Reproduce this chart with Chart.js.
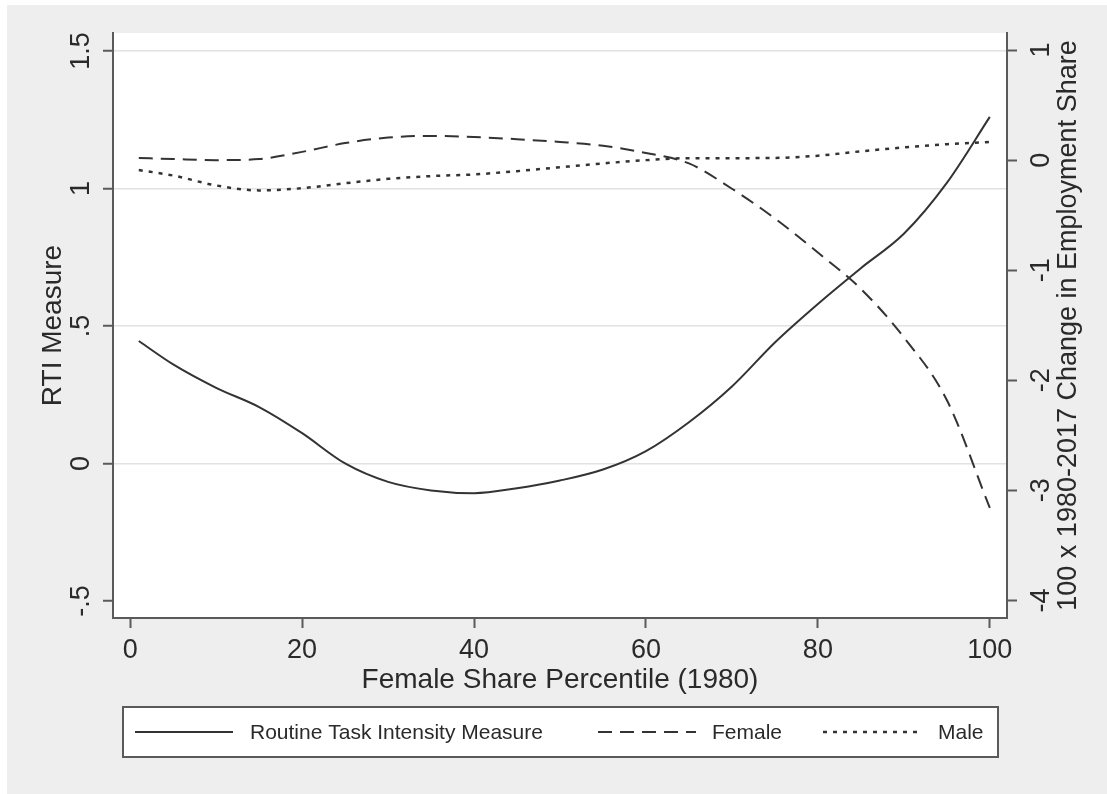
<!DOCTYPE html>
<html>
<head>
<meta charset="utf-8">
<script src="https://cdn.jsdelivr.net/npm/chart.js@4.4.1/dist/chart.umd.min.js"></script>
<style>
    html, body { margin: 0; padding: 0; background: #fff; }
    #wrap { width: 1107px; height: 794px; }
</style>
</head>
<body>
<div id="wrap"><canvas id="grafico" width="1107" height="794"></canvas></div>
<script>
const percentis = [1, 5, 10, 15, 20, 25, 30, 35, 40, 45, 50, 55, 60, 65, 70, 75, 80, 85, 90, 95, 100];
const rtiValores = [0.445, 0.36, 0.275, 0.205, 0.11, 0.0, -0.067, -0.098, -0.108, -0.09, -0.062, -0.022, 0.045, 0.15, 0.28, 0.44, 0.58, 0.71, 0.835, 1.02, 1.26];
const femaleValores = [0.02, 0.01, 0.0, 0.01, 0.075, 0.155, 0.205, 0.22, 0.21, 0.19, 0.165, 0.13, 0.065, -0.03, -0.26, -0.53, -0.84, -1.17, -1.61, -2.18, -3.16];
const maleValores = [-0.09, -0.14, -0.23, -0.275, -0.255, -0.21, -0.17, -0.145, -0.13, -0.1, -0.065, -0.03, 0.0, 0.018, 0.018, 0.02, 0.04, 0.08, 0.115, 0.145, 0.165];

const xTicks = [0, 20, 40, 60, 80, 100];
const yEsqTicks = [-0.5, 0, 0.5, 1, 1.5];
const yEsqLabels = ['-.5', '0', '.5', '1', '1.5'];
const yDirTicks = [-4, -3, -2, -1, 0, 1];
const yDirLabels = ['-4', '-3', '-2', '-1', '0', '1'];

const FONTE = "'Liberation Sans', Arial, Helvetica, sans-serif";
const COR_TEXTO = '#2a2a2a';
const COR_EIXO = '#5a5a5a';
const COR_LINHA = '#333333';

Chart.defaults.font.family = FONTE;
Chart.defaults.color = COR_TEXTO;

function pontos(valores) {
    return percentis.map((x, i) => ({ x, y: valores[i] }));
}

const fundo = {
    id: 'fundo',
    beforeDraw(chart) {
        const { ctx, width, height, chartArea } = chart;
        ctx.save();
        ctx.fillStyle = '#ffffff';
        ctx.fillRect(0, 0, width, height);
        ctx.fillStyle = '#eeeeee';
        ctx.fillRect(7, 5, width - 7, height - 5);
        ctx.fillStyle = '#ffffff';
        ctx.fillRect(chartArea.left, chartArea.top, chartArea.right - chartArea.left, chartArea.bottom - chartArea.top);
        ctx.restore();
    }
};

// titulo do eixo direito lido de baixo para cima, como no original
const tituloDireita = {
    id: 'tituloDireita',
    afterDraw(chart) {
        const { ctx, chartArea } = chart;
        ctx.save();
        ctx.translate(1069, (chartArea.top + chartArea.bottom) / 2);
        ctx.rotate(-Math.PI / 2);
        ctx.font = `27px ${FONTE}`;
        ctx.fillStyle = COR_TEXTO;
        ctx.textAlign = 'center';
        ctx.textBaseline = 'middle';
        ctx.fillText('100 x 1980-2017 Change in Employment Share', 0, 0);
        ctx.restore();
    }
};

const legenda = {
    id: 'legenda',
    afterDraw(chart) {
        const { ctx } = chart;
        const caixa = { x: 123, y: 707, w: 875, h: 50 };
        const itens = [
            { x0: 135, x1: 233, tx: 250 },
            { x0: 598, x1: 696, tx: 712 },
            { x0: 823, x1: 921, tx: 938 }
        ];
        const cy = caixa.y + caixa.h / 2;

        ctx.save();
        ctx.fillStyle = '#ffffff';
        ctx.fillRect(caixa.x, caixa.y, caixa.w, caixa.h);
        ctx.strokeStyle = COR_EIXO;
        ctx.lineWidth = 2;
        ctx.strokeRect(caixa.x, caixa.y, caixa.w, caixa.h);

        chart.data.datasets.forEach((ds, i) => {
            const it = itens[i];
            ctx.beginPath();
            ctx.setLineDash(ds.borderDash || []);
            ctx.strokeStyle = ds.borderColor;
            ctx.lineWidth = ds.borderWidth;
            ctx.moveTo(it.x0, cy);
            ctx.lineTo(it.x1, cy);
            ctx.stroke();

            ctx.setLineDash([]);
            ctx.font = `21px ${FONTE}`;
            ctx.fillStyle = COR_TEXTO;
            ctx.textAlign = 'left';
            ctx.textBaseline = 'middle';
            ctx.fillText(ds.label, it.tx, cy + 1);
        });
        ctx.restore();
    }
};

const eixoBase = {
    border: { display: true, color: COR_EIXO, width: 2 },
    ticks: { font: { size: 27 }, autoSkip: false }
};

new Chart(document.getElementById('grafico').getContext('2d'), {
    type: 'line',
    data: {
        datasets: [
            {
                label: 'Routine Task Intensity Measure',
                data: pontos(rtiValores),
                yAxisID: 'y',
                borderColor: COR_LINHA,
                borderWidth: 2,
                borderDash: []
            },
            {
                label: 'Female',
                data: pontos(femaleValores),
                yAxisID: 'y2',
                borderColor: COR_LINHA,
                borderWidth: 2,
                borderDash: [14, 8]
            },
            {
                label: 'Male',
                data: pontos(maleValores),
                yAxisID: 'y2',
                borderColor: COR_LINHA,
                borderWidth: 2.5,
                borderDash: [4, 6]
            }
        ]
    },
    options: {
        responsive: false,
        animation: false,
        layout: { padding: { top: 33, left: 0, right: 0, bottom: 0 } },
        elements: {
            point: { radius: 0 },
            line: { cubicInterpolationMode: 'monotone', fill: false }
        },
        plugins: {
            legend: { display: false },
            tooltip: { enabled: false }
        },
        scales: {
            x: {
                ...eixoBase,
                type: 'linear',
                position: 'bottom',
                min: -2,
                max: 102,
                afterBuildTicks(scale) { scale.ticks = xTicks.map(v => ({ value: v })); },
                afterFit(scale) { scale.height = 176; },
                grid: { drawOnChartArea: false, tickLength: 10, tickColor: COR_EIXO, tickWidth: 2 },
                ticks: { ...eixoBase.ticks, padding: 6, maxRotation: 0 },
                title: {
                    display: true,
                    text: 'Female Share Percentile (1980)',
                    font: { size: 28 },
                    color: COR_TEXTO,
                    padding: { top: 0, bottom: 97 }
                }
            },
            y: {
                ...eixoBase,
                type: 'linear',
                position: 'left',
                min: -0.562,
                max: 1.565,
                afterBuildTicks(scale) { scale.ticks = yEsqTicks.map(v => ({ value: v })); },
                afterFit(scale) { scale.width = 113; },
                grid: {
                    color: ctx => (ctx.tick && ctx.tick.value === -0.5 ? 'rgba(0,0,0,0)' : '#e2e2e2'),
                    lineWidth: 1.5,
                    tickLength: 10,
                    tickColor: COR_EIXO,
                    tickWidth: 2
                },
                ticks: {
                    ...eixoBase.ticks,
                    minRotation: 90,
                    maxRotation: 90,
                    crossAlign: 'center',
                    padding: 3,
                    callback: v => yEsqLabels[yEsqTicks.indexOf(v)]
                },
                title: {
                    display: true,
                    text: 'RTI Measure',
                    font: { size: 28 },
                    color: COR_TEXTO,
                    padding: { top: 36, bottom: 0 }
                }
            },
            y2: {
                ...eixoBase,
                type: 'linear',
                position: 'right',
                min: -4.16,
                max: 1.155,
                afterBuildTicks(scale) { scale.ticks = yDirTicks.map(v => ({ value: v })); },
                afterFit(scale) { scale.width = 100; },
                grid: { drawOnChartArea: false, tickLength: 10, tickColor: COR_EIXO, tickWidth: 2 },
                ticks: {
                    ...eixoBase.ticks,
                    minRotation: 90,
                    maxRotation: 90,
                    crossAlign: 'center',
                    padding: 13,
                    callback: v => yDirLabels[yDirTicks.indexOf(v)]
                }
            }
        }
    },
    plugins: [fundo, tituloDireita, legenda]
});
</script>
</body>
</html>
